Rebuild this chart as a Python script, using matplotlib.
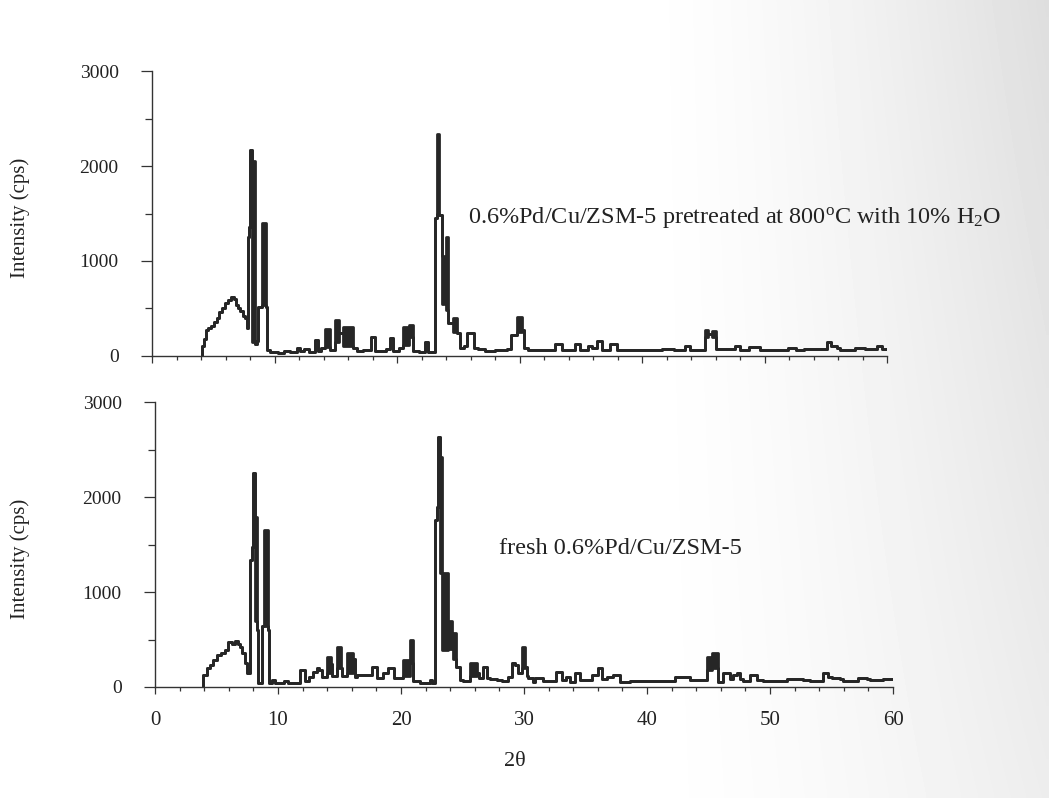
import numpy as np
import matplotlib
matplotlib.use('Agg')
import matplotlib.pyplot as plt
from matplotlib.ticker import MultipleLocator, FormatStrFormatter

plt.rcParams['font.family'] = ['Liberation Serif', 'DejaVu Serif']
plt.rcParams['mathtext.fontset'] = 'custom'
plt.rcParams['mathtext.rm'] = 'Liberation Serif'
plt.rcParams['mathtext.it'] = 'Liberation Serif:italic'

INK = '#262626'

# pretreated sample: 2theta step edges, upper trace and lower trace
# (upper and lower differ where the scan is dense enough to fill in)
treated_x = [
  4.11, 4.25, 4.4, 4.6, 4.85, 5.05, 5.3, 5.5, 5.7, 5.95,
  6.2, 6.45, 6.7, 6.85, 7.0, 7.2, 7.4, 7.6, 7.73, 7.86,
  7.95, 8.03, 8.14, 8.41, 8.55, 8.68, 8.95, 9.31, 9.41, 9.6,
  10.3, 10.8, 11.3, 11.8, 12.1, 12.4, 12.8, 13.3, 13.55, 13.8,
  14.1, 14.5, 14.9, 15.3, 15.6, 16.4, 16.7, 17.2, 17.9, 18.2,
  19.1, 19.4, 19.7, 20.2, 20.5, 21.0, 21.3, 21.8, 22.3, 22.5,
  23.1, 23.24, 23.46, 23.65, 23.84, 24.0, 24.2, 24.55, 24.87, 25.14,
  25.5, 25.7, 26.3, 26.6, 27.2, 28.0, 29.0, 29.3, 29.8, 30.2,
  30.4, 30.7, 32.9, 33.45, 34.5, 34.95, 35.6, 35.9, 36.3, 36.7,
  37.4, 37.95, 41.6, 42.6, 43.5, 43.9, 45.15, 45.4, 45.7, 46.0,
  46.4, 47.6, 48.0, 48.7, 49.6, 51.9, 52.6, 53.2, 54.5, 55.1,
  55.4, 55.9, 56.2, 57.4, 58.2, 58.9, 59.2, 59.6, 59.97]
treated_hi = [
  110, 180, 270, 290, 320, 360, 400, 460, 500, 560,
  590, 625, 600, 540, 500, 470, 420, 400, 290, 1250,
  1360, 2170, 2050, 130, 160, 520, 1400, 520, 60, 40,
  30, 50, 45, 80, 50, 70, 45, 170, 50, 80,
  280, 60, 380, 240, 310, 80, 50, 60, 200, 50,
  70, 185, 50, 80, 310, 330, 50, 40, 150, 40,
  1450, 2340, 1480, 1050, 1010, 1250, 345, 400, 240, 80,
  100, 240, 80, 70, 50, 60, 70, 220, 415, 275,
  80, 65, 127, 65, 127, 65, 100, 85, 160, 60,
  127, 65, 78, 65, 110, 60, 270, 230, 260, 70,
  78, 110, 60, 95, 65, 80, 65, 75, 70, 145,
  100, 80, 60, 85, 70, 75, 105, 75, 75]
treated_lo = [
  110, 180, 270, 290, 320, 360, 400, 460, 500, 560,
  590, 625, 600, 540, 500, 470, 420, 400, 290, 1250,
  1360, 2170, 150, 130, 160, 520, 540, 520, 60, 40,
  30, 50, 45, 80, 50, 70, 45, 170, 50, 80,
  90, 60, 150, 240, 100, 80, 50, 60, 200, 50,
  70, 185, 50, 80, 120, 200, 50, 40, 150, 40,
  1450, 1500, 1480, 550, 1010, 485, 345, 250, 240, 80,
  100, 240, 80, 70, 50, 60, 70, 220, 250, 275,
  80, 65, 127, 65, 127, 65, 100, 85, 160, 60,
  127, 65, 78, 65, 110, 60, 200, 230, 200, 70,
  78, 110, 60, 95, 65, 80, 65, 75, 70, 145,
  100, 80, 60, 85, 70, 75, 105, 75, 75]

# fresh sample
fresh_x = [
  3.93, 4.2, 4.47, 4.74, 5.0, 5.4, 5.7, 5.96, 6.23, 6.5,
  6.78, 6.9, 7.05, 7.3, 7.45, 7.7, 7.85, 7.99, 8.13, 8.27,
  8.4, 8.67, 8.86, 9.16, 9.3, 9.5, 9.76, 10.5, 10.8, 11.8,
  12.2, 12.5, 12.87, 13.14, 13.36, 13.55, 13.96, 14.3, 14.4, 14.77,
  15.1, 15.2, 15.58, 16.13, 16.26, 16.4, 17.6, 18.02, 18.56, 18.97,
  19.4, 20.2, 20.73, 20.95, 21.55, 22.36, 22.5, 22.77, 22.9, 23.04,
  23.17, 23.31, 23.85, 24.12, 24.26, 24.5, 24.8, 25.0, 25.6, 26.15,
  26.3, 26.7, 26.96, 27.24, 27.8, 28.2, 28.7, 29.0, 29.27, 29.5,
  29.81, 30.08, 30.22, 30.35, 30.76, 30.9, 31.57, 32.6, 33.06, 33.4,
  33.74, 34.14, 34.55, 35.5, 36.04, 36.31, 36.72, 37.2, 37.8, 38.6,
  42.27, 43.5, 44.85, 45.3, 45.8, 46.2, 46.74, 47.0, 47.3, 47.56,
  47.83, 48.37, 48.91, 49.45, 51.35, 52.7, 53.25, 54.33, 54.74, 55.0,
  55.7, 55.96, 57.18, 57.86, 58.13, 59.21, 59.97]
fresh_hi = [
  126, 197, 232, 284, 337, 354, 389, 477, 452, 488,
  452, 425, 354, 250, 150, 1337, 1477, 2249, 1793, 600,
  40, 640, 1653, 600, 40, 75, 40, 60, 40, 180,
  60, 110, 160, 195, 180, 100, 320, 240, 120, 425,
  200, 120, 360, 300, 100, 125, 215, 90, 145, 195,
  90, 285, 495, 60, 40, 75, 40, 1758, 1898, 2635,
  2425, 1200, 700, 495, 565, 214, 74, 60, 250, 144,
  90, 214, 91, 80, 74, 60, 100, 250, 230, 150,
  425, 214, 120, 91, 56, 91, 63, 161, 74, 102,
  56, 144, 74, 126, 196, 81, 109, 125, 56, 67,
  102, 74, 320, 360, 56, 144, 81, 126, 151, 81,
  67, 126, 74, 67, 81, 74, 67, 144, 110, 91,
  81, 67, 91, 81, 74, 81, 81]
fresh_lo = [
  126, 197, 232, 284, 337, 354, 389, 477, 452, 488,
  452, 425, 354, 250, 150, 1337, 1477, 2249, 700, 600,
  40, 640, 640, 600, 40, 75, 40, 60, 40, 180,
  60, 110, 160, 195, 180, 100, 150, 240, 120, 200,
  200, 120, 150, 300, 100, 125, 215, 90, 145, 195,
  90, 120, 250, 60, 40, 75, 40, 1758, 1898, 2635,
  1200, 390, 400, 495, 300, 214, 74, 60, 120, 144,
  90, 214, 91, 80, 74, 60, 100, 250, 230, 150,
  200, 214, 120, 91, 56, 91, 63, 161, 74, 102,
  56, 144, 74, 126, 196, 81, 109, 125, 56, 67,
  102, 74, 180, 200, 56, 144, 81, 126, 151, 81,
  67, 126, 74, 67, 81, 74, 67, 144, 110, 91,
  81, 67, 91, 81, 74, 81, 81]

treated_label = '0.6%Pd/Cu/ZSM-5 pretreated at 800$^\\mathrm{o}$C with 10% H$_2$O'
fresh_label = 'fresh 0.6%Pd/Cu/ZSM-5'


def draw_pattern(ax, x, hi, lo):
  # start the trace from the baseline, then fill between the two envelopes
  xs = np.r_[x[0], x]
  hs = np.r_[0, hi]
  ls = np.r_[0, lo]
  ax.fill_between(xs, ls, hs, step='post', color=INK, lw=0)
  ax.step(xs, hs, where='post', color=INK, lw=2.0)
  ax.step(xs, ls, where='post', color=INK, lw=2.0)


def style_axes(ax, show_xlabels):
  ax.set_xlim(0, 60)
  ax.set_ylim(0, 3000)
  for side in ('top', 'right'):
    ax.spines[side].set_visible(False)
  for side in ('left', 'bottom'):
    ax.spines[side].set_linewidth(1.0)
    ax.spines[side].set_color('#333333')
  ax.xaxis.set_major_locator(MultipleLocator(10))
  ax.xaxis.set_minor_locator(MultipleLocator(2))
  ax.yaxis.set_major_locator(MultipleLocator(1000))
  ax.yaxis.set_minor_locator(MultipleLocator(500))
  ax.yaxis.set_major_formatter(FormatStrFormatter('%d'))
  ax.tick_params(axis='x', which='major', direction='out', length=5, width=0.9,
                 color='#333333', labelsize=15, pad=12, labelcolor='#222222',
                 labelbottom=show_xlabels)
  ax.tick_params(axis='x', which='minor', direction='out', length=3, width=0.9, color='#333333')
  ax.tick_params(axis='y', which='major', direction='out', length=8, width=0.9,
                 color='#333333', labelsize=14, pad=16, labelcolor='#222222')
  ax.tick_params(axis='y', which='minor', direction='out', length=5, width=0.9, color='#333333')
  ax.set_facecolor('none')


fig = plt.figure(figsize=(10.49, 7.98), dpi=100)
fig.patch.set_facecolor('white')

# faint grey shading towards the right edge of the page
bg = fig.add_axes([0, 0, 1, 1], zorder=-10)
gx = np.linspace(0, 1, 200)
gy = np.linspace(0, 1, 160)
GX, GY = np.meshgrid(gx, gy)
shade = np.clip((GX - 0.6) / 0.4, 0, 1) ** 1.5 * (0.55 + 0.45 * (1 - GY))
bg.imshow(1 - 0.13 * shade, cmap='gray', vmin=0, vmax=1, aspect='auto',
          extent=[0, 1, 0, 1], interpolation='bilinear')
bg.set_axis_off()

ax_top = fig.add_axes([0.1449, 0.5539, 0.7007, 0.3571])
ax_bot = fig.add_axes([0.1478, 0.1391, 0.7035, 0.3571])

draw_pattern(ax_top, treated_x, treated_hi, treated_lo)
draw_pattern(ax_bot, fresh_x, fresh_hi, fresh_lo)

style_axes(ax_top, False)
style_axes(ax_bot, True)

ax_top.text(25.8, 1463, treated_label, fontsize=17.5, ha='left', va='center', color='#222222')
ax_bot.text(28.0, 1463, fresh_label, fontsize=17.5, ha='left', va='center', color='#222222')

fig.text(20 / 1049, 1 - 218 / 798, 'Intensity (cps)', rotation=90, fontsize=15,
         ha='center', va='center', color='#222222')
fig.text(20 / 1049, 1 - 559 / 798, 'Intensity (cps)', rotation=90, fontsize=15,
         ha='center', va='center', color='#222222')
fig.text(515 / 1049, 1 - 762 / 798, '2θ', fontsize=16, ha='center', va='center', color='#222222')

fig.savefig('out.png', dpi=100)
